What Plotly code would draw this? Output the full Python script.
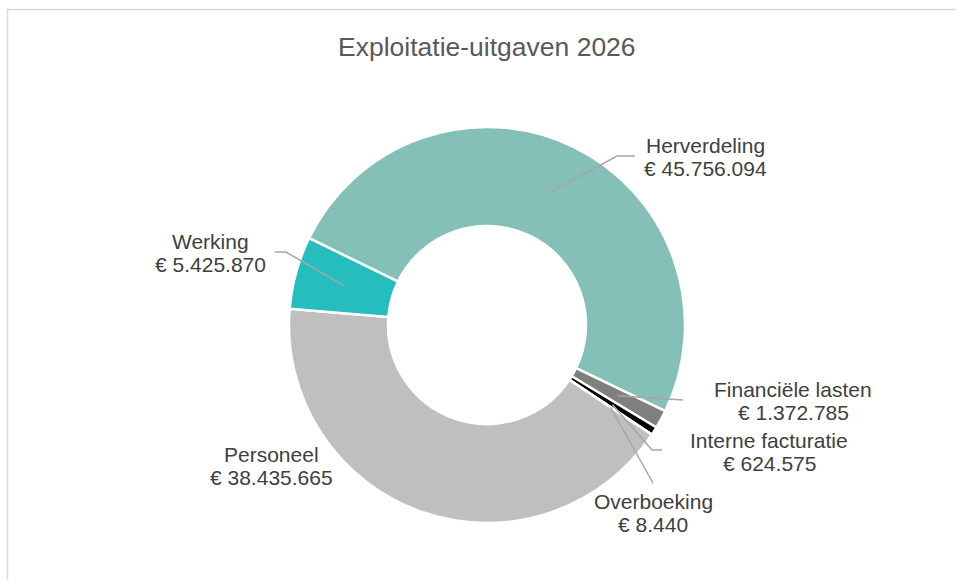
import math
import plotly.graph_objects as go

# ---- data ----
categories = ["Herverdeling", "Financiële lasten", "Interne facturatie", "Overboeking", "Personeel", "Werking"]
values = [45756094, 1372785, 624575, 8440, 38435665, 5425870]
colors = ["#84BFB8", "#7F7F7F", "#000000", "#FFFFFF", "#BFBFBF", "#26BDBF"]
title_text = "Exploitatie-uitgaven 2026"

W, H = 956, 580
ROT = -64  # start angle of first slice (deg, clockwise from 12 o'clock)
CX, CY, R = 487, 325, 198  # pie centre / radius in px (layout)
LINE_GAP = 23.5
FONT = "Liberation Sans, Arial, sans-serif"


def px(x):
    return x / W


def py(y):
    return 1 - y / H


def fmt(v):
    return "€ " + f"{v:,}".replace(",", ".")


fig = go.Figure(go.Pie(
    labels=categories,
    values=values,
    sort=False,
    direction="clockwise",
    rotation=ROT,
    hole=0.5,
    marker=dict(colors=colors, line=dict(color="#FFFFFF", width=2.5)),
    textinfo="none",
    hoverinfo="label+value",
    showlegend=False,
    domain=dict(x=[px(CX - R), px(CX + R)], y=[py(CY + R), py(CY - R)]),
))

# label layout: (label block centre x, y), leader path after anchor
label_layout = {
    "Herverdeling": dict(pos=(705, 157), path=[(617, 156), (635, 156)]),
    "Financiële lasten": dict(pos=(793, 401), path=[(683, 400)]),
    "Interne facturatie": dict(pos=(769, 452), path=[(652, 450), (662, 450)]),
    "Overboeking": dict(pos=(653, 513), path=[(653, 483)]),
    "Personeel": dict(pos=(271, 466), path=None),
    "Werking": dict(pos=(210, 253), path=[(286, 252), (275, 252)]),
}

total = sum(values)
cum = 0.0
shapes = []
annotations = []
for cat, v in zip(categories, values):
    mid = ROT + 360 * (cum + v / 2) / total
    cum += v
    a = math.radians(mid)
    r_anchor = 0.75 * R
    ax = CX + r_anchor * math.sin(a)
    ay = CY - r_anchor * math.cos(a)
    lay = label_layout[cat]
    if lay["path"]:
        pts = [(ax, ay)] + lay["path"]
        d = "M " + " L ".join(f"{px(x):.5f},{py(y):.5f}" for x, y in pts)
        shapes.append(dict(type="path", xref="paper", yref="paper", path=d,
                           line=dict(color="#A6A6A6", width=1.5)))
    lx, ly = lay["pos"]
    for txt, dy in ((cat, -LINE_GAP / 2), (fmt(v), LINE_GAP / 2)):
        annotations.append(dict(
            x=px(lx), y=py(ly + dy), xref="paper", yref="paper",
            text=txt, showarrow=False,
            xanchor="center", yanchor="middle", align="center",
            font=dict(family=FONT, size=21, color="#404040"),
        ))

# chart area border (cropped at right & bottom)
shapes.append(dict(type="rect", xref="paper", yref="paper",
                   x0=px(7.5), y0=-0.2, x1=1.2, y1=py(9.5),
                   line=dict(color="#D9D9D9", width=1.5), fillcolor="rgba(0,0,0,0)", layer="below"))

annotations.append(dict(
    x=px(487), y=py(47), xref="paper", yref="paper", text=title_text, showarrow=False,
    xanchor="center", yanchor="middle",
    font=dict(family=FONT, size=26.5, color="#595959"),
))

fig.update_layout(
    width=W, height=H,
    margin=dict(l=0, r=0, t=0, b=0),
    paper_bgcolor="#FFFFFF",
    plot_bgcolor="#FFFFFF",
    shapes=shapes,
    annotations=annotations,
)

fig.write_html(
    "out.html",
    config={"displayModeBar": False},
    post_script="document.body.style.margin='0px';document.body.style.overflow='hidden';",
)
